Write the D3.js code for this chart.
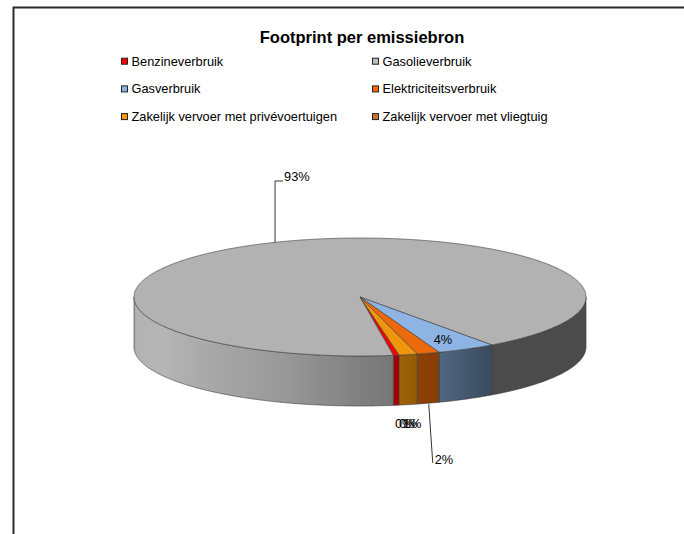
<!DOCTYPE html>
<html>
<head>
<meta charset="utf-8">
<script src="https://cdn.jsdelivr.net/npm/d3@7/dist/d3.min.js"></script>
<style>
  body { margin: 0; background: #fff; }
  svg text { font-family: "Liberation Sans", Arial, sans-serif; fill: #000; }
</style>
</head>
<body>
<div id="chart"></div>
<script>
// data (share of total footprint, %)
const categories = ["Benzineverbruik", "Gasolieverbruik", "Gasverbruik",
  "Elektriciteitsverbruik", "Zakelijk vervoer met privévoertuigen", "Zakelijk vervoer met vliegtuig"];
const shares = [0.42, 92.45, 4.22, 1.61, 1.30, 0.0];
const labels = ["0%", "93%", "4%", "2%", "1%", "0%"];

const topColors = ["#ff0000", "#b2b2b2", "#8db4e2", "#ec6a0c", "#f0960c", "#c87533"];
const legendColors = ["#ff0000", "#c0c0c0", "#8db4e2", "#ff6600", "#ff9900", "#c87533"];

const width = 684, height = 534;
const cx = 360, cy = 297, rx = 226, ry = 59, depth = 50;
const startDeg = 170;

const svg = d3.select("#chart").append("svg")
  .attr("width", width).attr("height", height);

// outer frame (only top and left edges are inside the picture)
svg.append("path")
  .attr("d", "M13.5,534 L13.5,7.5 L684,7.5")
  .attr("fill", "none").attr("stroke", "#2b2b2b").attr("stroke-width", 2);

svg.append("text")
  .attr("x", 362).attr("y", 43)
  .attr("text-anchor", "middle")
  .style("font-weight", "bold").style("font-size", "16.5px")
  .text("Footprint per emissiebron");

// legend, two columns
const legend = svg.append("g");
categories.forEach((c, i) => {
  const col = i % 2, row = Math.floor(i / 2);
  const x = col === 0 ? 121.5 : 372.5;
  const y = 65.7 + row * 27.7;
  legend.append("rect")
    .attr("x", x).attr("y", y - 7.5).attr("width", 6).attr("height", 6)
    .attr("fill", legendColors[i]).attr("stroke", "#222").attr("stroke-width", 1);
  legend.append("text")
    .attr("x", x + 10).attr("y", y)
    .style("font-size", "12.8px")
    .text(c);
});

const pie = d3.pie().sort(null).value(d => d)
  .startAngle(startDeg * Math.PI / 180)
  .endAngle(startDeg * Math.PI / 180 + 2 * Math.PI);
const arcs = pie(shares);

const px = a => cx + rx * Math.sin(a);
const py = a => cy - ry * Math.cos(a);

// side lighting as a function of the angle (degrees, 90..270 is the front)
const light = d3.scaleLinear()
  .domain([90, 144, 145, 160, 165, 171, 180, 200, 240, 262, 270])
  .range([0.42, 0.42, 0.41, 0.58, 0.6, 0.66, 0.72, 0.86, 1.02, 1.0, 0.9])
  .clamp(true);

function shade(color, deg) {
  const c = d3.rgb(color), k = light(deg);
  return d3.rgb(c.r * k, c.g * k, c.b * k).formatHex();
}

const defs = svg.append("defs");
const sides = svg.append("g");
const tops = svg.append("g");

// front wall pieces
let gid = 0;
arcs.forEach((d, i) => {
  if (d.endAngle - d.startAngle <= 0) return;
  for (let k = -1; k <= 1; k++) {
    const a0 = Math.max(d.startAngle + k * 2 * Math.PI, Math.PI / 2);
    const a1 = Math.min(d.endAngle + k * 2 * Math.PI, 3 * Math.PI / 2);
    if (a1 <= a0) continue;
    const n = Math.max(4, Math.ceil((a1 - a0) / 0.01));
    const ts = d3.range(n + 1).map(j => a0 + (a1 - a0) * j / n);
    const topPts = ts.map(t => [px(t), py(t)]);
    const botPts = ts.slice().reverse().map(t => [px(t), py(t) + depth]);
    const id = "side" + (gid++);
    const xs = topPts.map(p => p[0]);
    const x1 = d3.min(xs), x2 = d3.max(xs);
    const grad = defs.append("linearGradient").attr("id", id)
      .attr("gradientUnits", "userSpaceOnUse")
      .attr("x1", x1).attr("x2", x2).attr("y1", 0).attr("y2", 0);
    // angles grow right to left on the front, so stops go in reverse
    ts.filter((t, j) => j % 4 === 0 || j === n).reverse().forEach(t => {
      const x = px(t);
      grad.append("stop")
        .attr("offset", x2 > x1 ? (x - x1) / (x2 - x1) : 0)
        .attr("stop-color", shade(topColors[i], t * 180 / Math.PI % 360));
    });
    sides.append("path")
      .attr("d", d3.line()(topPts.concat(botPts)) + "Z")
      .attr("fill", "url(#" + id + ")")
      .attr("stroke", "#3a3a3a").attr("stroke-width", 0.6)
      .attr("stroke-linejoin", "round");
  }
});

// top surface
arcs.forEach((d, i) => {
  if (d.endAngle - d.startAngle <= 0) return;
  const n = Math.max(2, Math.ceil((d.endAngle - d.startAngle) / 0.01));
  const pts = [[cx, cy]].concat(d3.range(n + 1).map(j => {
    const t = d.startAngle + (d.endAngle - d.startAngle) * j / n;
    return [px(t), py(t)];
  }));
  tops.append("path")
    .attr("d", d3.line()(pts) + "Z")
    .attr("fill", topColors[i])
    .attr("stroke", "#3a3a3a").attr("stroke-width", 0.6)
    .attr("stroke-linejoin", "round");
});

// data labels
const lab = svg.append("g").style("font-size", "12.8px");
const mid = d => (d.startAngle + d.endAngle) / 2;

// 93%: leader from the rim up and to the right
{
  const a = mid(arcs[1]);
  const x0 = px(a), y0 = py(a);
  lab.append("path")
    .attr("d", `M${x0},${y0} L${x0},181 L${x0 + 8},181`)
    .attr("fill", "none").attr("stroke", "#000").attr("stroke-width", 0.8);
  lab.append("text").attr("x", x0 + 9).attr("y", 181).text(labels[1]);
}
// 4%: inside the slice
{
  const a = mid(arcs[2]);
  lab.append("text")
    .attr("x", cx + 0.78 * rx * Math.sin(a))
    .attr("y", cy - 0.78 * ry * Math.cos(a))
    .attr("dy", "0.5em")
    .attr("text-anchor", "middle")
    .text(labels[2]);
}
// 2%: leader from bottom rim down
{
  const a = mid(arcs[3]);
  const x0 = px(a) + 0.5, y0 = py(a) + depth + 1;
  lab.append("path")
    .attr("d", `M${x0},${y0} L${x0 + 4},463`)
    .attr("fill", "none").attr("stroke", "#000").attr("stroke-width", 0.8);
  lab.append("text").attr("x", x0 + 6).attr("y", 464).text(labels[3]);
}
// small slices: labels stacked just below the wall (they overlap, as in the original)
[[0, 395], [5, 399], [4, 403]].forEach(([i, x]) => {
  lab.append("text").attr("x", x).attr("y", 428).text(labels[i]);
});
</script>
</body>
</html>
